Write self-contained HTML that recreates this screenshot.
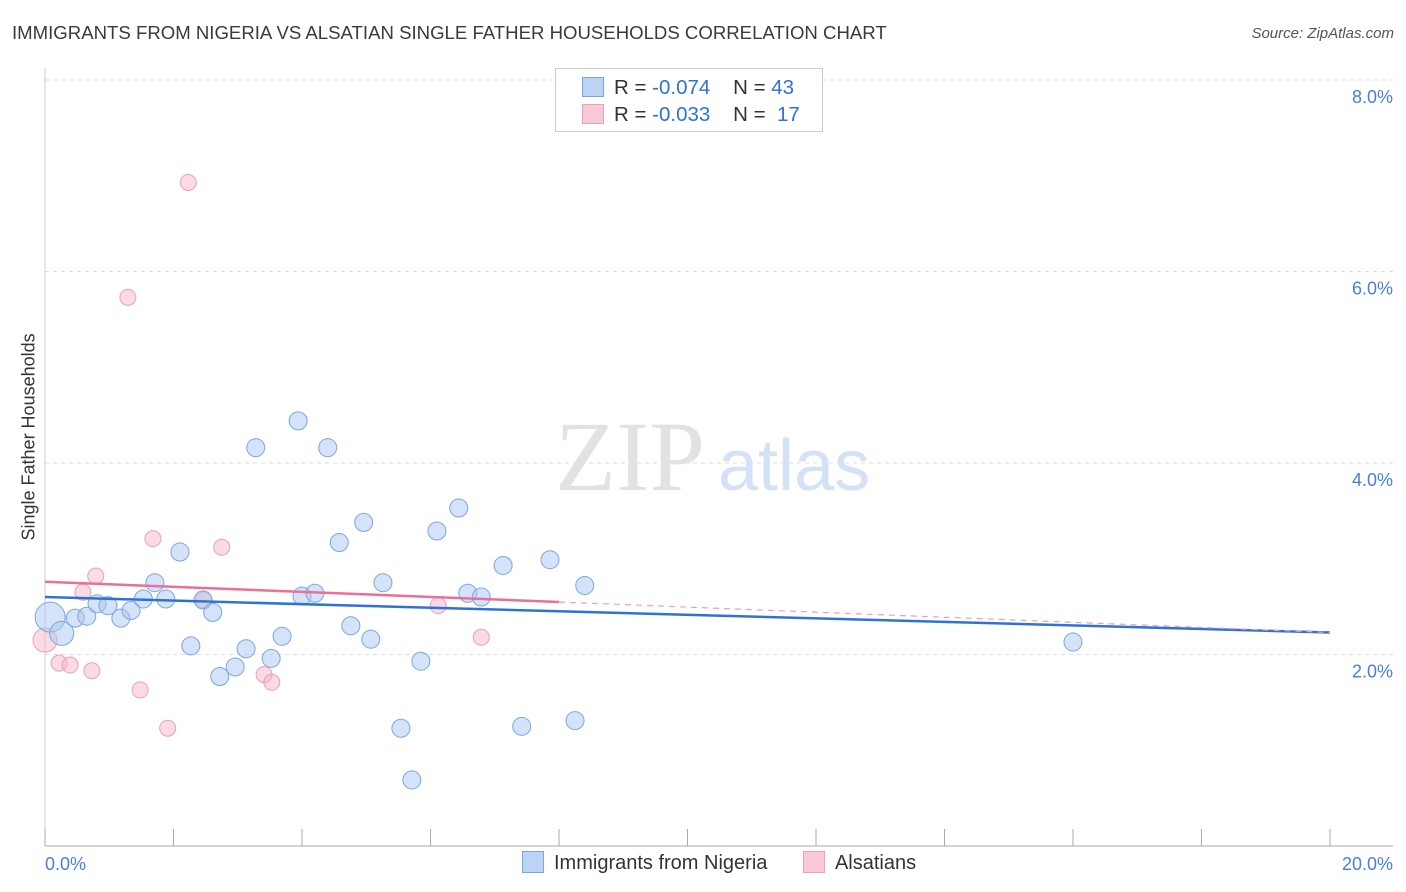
<!DOCTYPE html>
<html><head><meta charset="utf-8">
<style>
body{margin:0;background:#fff;font-family:"Liberation Sans",sans-serif;}
#wrap{position:relative;width:1406px;height:892px;overflow:hidden;}
.t{position:absolute;white-space:nowrap;}
</style></head><body>
<div id="wrap">
<div class="t" style="left:12px;top:22px;font-size:18.6px;color:#3a3a3a;">IMMIGRANTS FROM NIGERIA VS ALSATIAN SINGLE FATHER HOUSEHOLDS CORRELATION CHART</div>
<div class="t" style="right:12px;top:25px;font-size:15px;color:#555;font-style:italic;">Source: ZipAtlas.com</div>
<div class="t" style="left:-56px;top:445px;font-size:18px;color:#333;transform:rotate(-90deg);transform-origin:center;width:170px;text-align:center;">Single Father Households</div>
<svg id="svg" width="1406" height="892" style="position:absolute;left:0;top:0"></svg>
</div>
<script>
const blueX=[0.08,0.26,0.47,0.65,0.81,0.98,1.18,1.34,1.53,1.71,1.88,2.10,2.27,2.46,2.61,2.72,2.96,3.13,3.28,3.52,3.69,3.94,4.00,4.20,4.40,4.58,4.76,4.96,5.07,5.26,5.54,5.71,5.85,6.10,6.44,6.58,6.79,7.13,7.42,7.86,8.25,8.40,16.00];
const blueY=[2.39,2.22,2.38,2.40,2.53,2.51,2.38,2.46,2.58,2.75,2.58,3.07,2.09,2.57,2.44,1.77,1.87,2.06,4.16,1.96,2.19,4.44,2.61,2.64,4.16,3.17,2.30,3.38,2.16,2.75,1.23,0.69,1.93,3.29,3.53,2.64,2.60,2.93,1.25,2.99,1.31,2.72,2.13];
const blueR=[15,12,9,9,9,9,9,9,9,9,9,9,9,9,9,9,9,9,9,9,9,9,9,9,9,9,9,9,9,9,9,9,9,9,9,9,9,9,9,9,9,9,9];
const pinkX=[0.0,0.22,0.39,0.59,0.73,0.79,1.29,1.48,1.68,1.91,2.23,2.47,2.75,3.41,3.53,6.12,6.79];
const pinkY=[2.15,1.91,1.89,2.65,1.83,2.82,5.73,1.63,3.21,1.23,6.93,2.57,3.12,1.79,1.71,2.51,2.18];
const blueTrend=[2.60,2.23];
const pinkTrend=[2.76,2.23];
const pinkSolidEnd=8.0;
const xTickLabels=["0.0%","20.0%"];
const yTicks=[2,4,6,8];
const yTickLabels=["2.0%","4.0%","6.0%","8.0%"];

const svg=document.getElementById('svg');
const NS='http://www.w3.org/2000/svg';
const X=v=>45+v*64.25, Y=v=>846-v*95.75;
function el(tag,attrs){const e=document.createElementNS(NS,tag);for(const k in attrs)e.setAttribute(k,attrs[k]);svg.appendChild(e);return e;}
yTicks.forEach((t,i)=>{
 const g=el('line',{x1:45,x2:1393,y1:Y(t),y2:Y(t),stroke:'#ddd','stroke-dasharray':'4,4'});
 
 
 const tx=el('text',{x:1393,y:Y(t)+23,'text-anchor':'end','font-size':18,fill:'#4a7fd8','font-family':'Liberation Sans'});
 tx.textContent=yTickLabels[i];
 
 
});
const tg=el('line',{x1:45,x2:1393,y1:80,y2:80,stroke:'#ddd','stroke-dasharray':'4,4'});


const xa=el('line',{x1:45,x2:1393,y1:846,y2:846,stroke:'#aaa'});


const ya=el('line',{x1:45,x2:45,y1:68,y2:846,stroke:'#ccc'});


for(let i=0;i<=10;i++){
 const tk=el('line',{x1:X(i*2),x2:X(i*2),y1:829,y2:846,stroke:'#aaa'});
 
 
}
[[0,'start',45],[20,'end',1393]].forEach((a,i)=>{
 const tx=el('text',{x:a[2],y:870,'text-anchor':a[1],'font-size':18,fill:'#4a7fd8','font-family':'Liberation Sans'});
 tx.textContent=xTickLabels[i];
 
 
});
const wm=el('text',{x:555,y:490,'font-size':100,fill:'#e2e2e2','font-family':'Liberation Serif'});
wm.textContent='ZIP';


const wm2=el('text',{x:718,y:490,'font-size':72,fill:'#d4e2f5','font-family':'Liberation Sans'});
wm2.textContent='atlas';


pinkX.forEach((x,i)=>{
 const c=el('circle',{cx:X(x),cy:Y(pinkY[i]),r:i==0?12:8,fill:'rgba(245,182,202,0.5)',stroke:'#eaa0b8','stroke-width':1});
 
 
});
blueX.forEach((x,i)=>{
 const c=el('circle',{cx:X(x),cy:Y(blueY[i]),r:blueR[i],fill:'rgba(169,200,240,0.5)',stroke:'#7aa6e0','stroke-width':1});
 
 
});
const bt=el('line',{x1:X(0),y1:Y(blueTrend[0]),x2:X(20),y2:Y(blueTrend[1]),stroke:'#2f72d6','stroke-width':2.5});


const pm=pinkTrend[0]+(pinkTrend[1]-pinkTrend[0])*pinkSolidEnd/20;
const pt=el('line',{x1:X(0),y1:Y(pinkTrend[0]),x2:X(pinkSolidEnd),y2:Y(pm),stroke:'#e8709a','stroke-width':2.5});


const pd=el('line',{x1:X(pinkSolidEnd),y1:Y(pm),x2:X(20),y2:Y(pinkTrend[1]),stroke:'#eaa0b8','stroke-width':1.2,'stroke-dasharray':'6,5'});


</script>
<div style="position:absolute;left:555px;top:68px;width:266px;height:62px;border:1px solid #ccc;background:#fff;font-size:20.5px;color:#333;">
 <div style="position:absolute;left:26px;top:7px;white-space:nowrap;"><span style="display:inline-block;width:20px;height:18px;background:#bcd4f4;border:1px solid #7aa6e0;vertical-align:-3px;margin-right:10px"></span>R = <span style="color:#2f72d6">-0.074</span>&nbsp;&nbsp;&nbsp; N = <span style="color:#2f72d6">43</span></div>
 <div style="position:absolute;left:26px;top:34px;white-space:nowrap;"><span style="display:inline-block;width:20px;height:18px;background:#f9c9d8;border:1px solid #eaa0b8;vertical-align:-3px;margin-right:10px"></span>R = <span style="color:#2f72d6">-0.033</span>&nbsp;&nbsp;&nbsp; N = &nbsp;<span style="color:#2f72d6">17</span></div>
</div>
<div style="position:absolute;left:522px;top:851px;font-size:20px;color:#333;white-space:nowrap;">
 <span><span style="display:inline-block;width:20px;height:20px;background:#bcd4f4;border:1px solid #7aa6e0;vertical-align:-4px;margin-right:10px"></span>Immigrants from Nigeria</span>
 <span style="margin-left:30px"><span style="display:inline-block;width:20px;height:20px;background:#f9c9d8;border:1px solid #eaa0b8;vertical-align:-4px;margin-right:10px"></span>Alsatians</span>
</div>
</body></html>
